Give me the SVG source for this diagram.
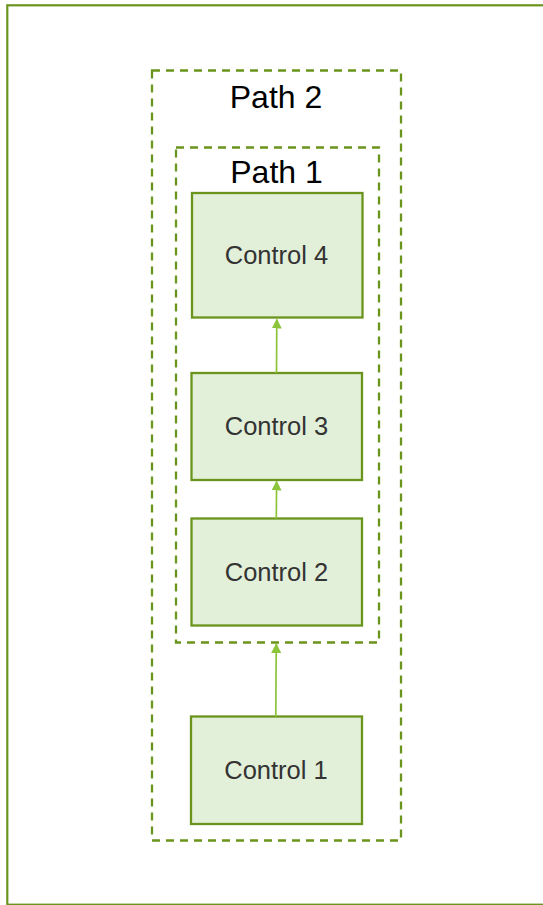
<svg xmlns="http://www.w3.org/2000/svg" width="543" height="905" viewBox="0 0 543 905">
<style>
.frame{fill:none;stroke:#6b941d;stroke-width:2.2}
.cluster{fill:none;stroke:#6b941d;stroke-width:2.3;stroke-dasharray:8 6}
.node rect{fill:#e2efd9;stroke:#6b941d;stroke-width:2.3}
.node text{font-family:"Liberation Sans",Arial,sans-serif;font-size:25.5px;fill:#333;text-anchor:middle}
.ctitle{font-family:"Liberation Sans",Arial,sans-serif;font-size:32px;fill:#000;text-anchor:middle}
.edge{stroke:#8cc43a;stroke-width:1.7;fill:none}
</style>
<defs>
<marker id="arr" markerWidth="10" markerHeight="10" refX="9" refY="5" orient="auto" markerUnits="userSpaceOnUse">
<path d="M0,0 L10,5 L0,10 z" fill="#8cc43a"/>
</marker>
</defs>
<rect class="frame" x="7.3" y="5.3" width="600" height="899.4"/>
<g id="path2">
<rect class="cluster" x="152" y="70.5" width="249" height="770"/>
<text class="ctitle" x="276" y="108">Path 2</text>
</g>
<g id="path1">
<rect class="cluster" x="176" y="147.5" width="203" height="495"/>
<text class="ctitle" x="276.5" y="183">Path 1</text>
</g>
<g id="control4" class="node">
<rect x="192" y="193" width="170.5" height="124.5"/>
<text x="276.5" y="264">Control 4</text>
</g>
<g id="control3" class="node">
<rect x="191.5" y="373" width="170.5" height="107"/>
<text x="276.5" y="435">Control 3</text>
</g>
<g id="control2" class="node">
<rect x="191.5" y="518.5" width="170.5" height="107"/>
<text x="276.5" y="580.5">Control 2</text>
</g>
<g id="control1" class="node">
<rect x="191" y="716.5" width="171" height="107.5"/>
<text x="276" y="779">Control 1</text>
</g>
<g id="connectors">
<path class="edge" d="M276.5,373 L276.8,319.5" marker-end="url(#arr)"/>
<path class="edge" d="M276.3,518.5 L276.6,481.5" marker-end="url(#arr)"/>
<path class="edge" d="M275.8,716.5 L276,679 L276.3,644" marker-end="url(#arr)"/>
</g>
</svg>
